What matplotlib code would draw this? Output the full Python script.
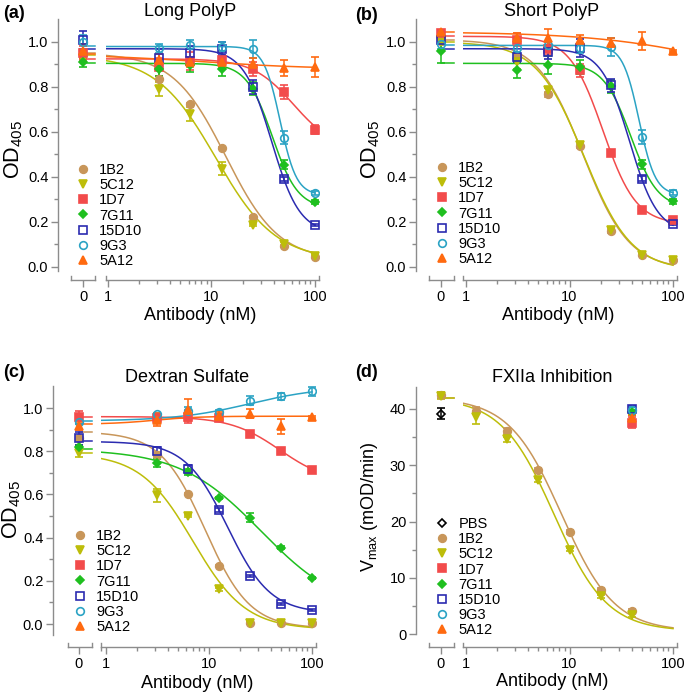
import numpy as np
import matplotlib.pyplot as plt
from matplotlib.lines import Line2D

plt.rcParams['font.family'] = ['Liberation Sans', 'DejaVu Sans']
plt.rcParams['mathtext.fontset'] = 'custom'
plt.rcParams['mathtext.rm'] = 'Liberation Sans'
plt.rcParams['mathtext.default'] = 'regular'

W, H = 685, 695

# ---- series ----
names = ['1B2', '5C12', '1D7', '7G11', '15D10', '9G3', '5A12']
colors = ['#c8965a', '#bdbd0a', '#f24b4b', '#1fbf1f', '#2b2bb0', '#2ba3c4', '#ff6a10']
markers = ['o', 'v', 's', 'D', 's', 'o', '^']
msizes = [5.5, 6, 5.5, 4.5, 5.5, 5.5, 6]
filled = [True, True, True, True, False, False, True]

conc = [3.125, 6.25, 12.5, 25, 50, 100]
conc_d = [1.25, 2.5, 5, 10, 20, 40]

# ---- (a) Long PolyP ----
a_zero = [0.945, 0.93, 0.95, 0.91, 1.01, 1.0, 0.96]
a_zero_err = [0.02, 0.02, 0.03, 0.02, 0.04, 0.03, 0.03]
a_vals = [[0.837, 0.726, 0.529, 0.222, 0.092, 0.044],
          [0.79, 0.68, 0.437, 0.185, 0.10, 0.047],
          [0.89, 0.914, 0.918, 0.88, 0.778, 0.61],
          [0.88, 0.896, 0.88, 0.793, 0.455, 0.289],
          [0.93, 0.953, 0.97, 0.80, 0.39, 0.188],
          [0.973, 0.988, 0.978, 0.97, 0.575, 0.329],
          [0.918, 0.911, 0.911, 0.90, 0.885, 0.89]]
a_err = [[0.01, 0.005, 0.005, 0.005, 0.005, 0.005],
         [0.03, 0.03, 0.03, 0.005, 0.01, 0.005],
         [0.04, 0.04, 0.04, 0.03, 0.03, 0.02],
         [0.03, 0.03, 0.03, 0.03, 0.02, 0.01],
         [0.04, 0.03, 0.03, 0.03, 0.01, 0.005],
         [0.02, 0.02, 0.02, 0.04, 0.03, 0.01],
         [0.03, 0.02, 0.02, 0.03, 0.035, 0.045]]
# fitted curves: top, bottom, IC50, hill
a_fit = [(0.95, 0.03, 13.8, 1.7), (0.94, 0.03, 11.0, 1.5), (0.925, 0.52, 62, 2.2),
         (0.905, 0.26, 38.5, 3.5), (0.97, 0.15, 38, 3.2), (0.98, 0.32, 46, 5.5),
         (0.945, 0.88, 8, 0.8)]

# ---- (b) Short PolyP ----
b_zero = [1.005, 1.0, 1.04, 0.96, 1.01, 0.99, 1.045]
b_zero_err = [0.01, 0.01, 0.015, 0.055, 0.02, 0.02, 0.01]
b_vals = [[0.933, 0.767, 0.538, 0.16, 0.052, 0.03],
          [0.91, 0.785, 0.544, 0.166, 0.052, 0.03],
          [1.01, 0.97, 0.874, 0.507, 0.255, 0.207],
          [0.874, 0.896, 0.889, 0.803, 0.456, 0.292],
          [0.933, 0.956, 0.973, 0.807, 0.393, 0.19],
          [0.975, 0.985, 0.973, 0.978, 0.578, 0.33],
          [1.019, 1.019, 1.01, 0.996, 1.004, 0.96]]
b_err = [[0.01, 0.01, 0.01, 0.01, 0.005, 0.005],
         [0.03, 0.01, 0.01, 0.01, 0.005, 0.005],
         [0.03, 0.03, 0.03, 0.01, 0.005, 0.005],
         [0.035, 0.04, 0.03, 0.03, 0.02, 0.01],
         [0.02, 0.03, 0.04, 0.03, 0.01, 0.005],
         [0.02, 0.02, 0.02, 0.04, 0.03, 0.01],
         [0.02, 0.04, 0.02, 0.02, 0.04, 0.005]]
b_fit = [(1.01, -0.01, 13.5, 1.95), (1.0, -0.015, 13.8, 1.9), (1.025, 0.19, 21, 2.7),
         (0.905, 0.26, 39, 3.3), (0.97, 0.15, 38, 3.2), (0.985, 0.32, 47, 5.5),
         (1.045, 0.8, 300, 0.7)]

# ---- (c) Dextran Sulfate ----
c_zero = [0.86, 0.79, 0.958, 0.82, 0.861, 0.935, 0.917]
c_zero_err = [0.01, 0.015, 0.03, 0.01, 0.03, 0.01, 0.02]
c_vals = [[0.784, 0.601, 0.27, 0.003, 0.003, 0.003],
          [0.595, 0.50, 0.16, 0.003, 0.003, 0.003],
          [0.955, 0.96, 0.954, 0.88, 0.802, 0.711],
          [0.745, 0.703, 0.583, 0.493, 0.354, 0.212],
          [0.80, 0.717, 0.529, 0.224, 0.091, 0.065],
          [0.974, 0.985, 0.98, 1.034, 1.054, 1.077],
          [0.946, 0.99, 0.961, 0.974, 0.915, 0.958]]
c_err = [[0.01, 0.005, 0.005, 0.005, 0.005, 0.005],
         [0.03, 0.005, 0.005, 0.005, 0.005, 0.005],
         [0.015, 0.03, 0.015, 0.005, 0.01, 0.01],
         [0.02, 0.015, 0.005, 0.02, 0.005, 0.005],
         [0.02, 0.02, 0.01, 0.005, 0.005, 0.005],
         [0.005, 0.02, 0.01, 0.02, 0.015, 0.02],
         [0.03, 0.05, 0.02, 0.02, 0.035, 0.005]]
c_fit = [(0.89, -0.02, 9.2, 2.0), (0.79, -0.025, 7.0, 1.7), (0.96, 0.65, 49, 1.8),
         (0.81, 0.05, 32, 1.1), (0.845, 0.05, 15.2, 2.1), (0.94, 1.10, 25, 1.2),
         (0.925, 0.962, 3, 2)]

# ---- (d) FXIIa inhibition ----
pbs_zero, pbs_err = 39.2, 1.0
d_zero = [42.5, 42.3]            # 1B2, 5C12
d_zero_err = [0.5, 0.6]
d_vals = [[39.7, 36.1, 29.2, 18.1, 7.9, 4.1],
          [38.5, 34.6, 27.4, 15.0, 6.7, 3.4]]
d_err = [[0.6, 0.5, 0.4, 0.4, 0.3, 0.3],
         [1.2, 0.5, 0.4, 0.3, 0.3, 0.3]]
d_fit = [(42, 0.5, 8.4, 1.7), (42, 0.5, 7.1, 1.7)]
d_at40 = [37.6, 39.4, 40.0, 39.8, 38.4]   # 1D7 .. 5A12 at 40 nM
d_at40_err = [0.9, 0.5, 0.5, 0.5, 0.6]

SPINE = '#8c8c8c'


def px_rect(x0, x1, y0, y1):
    return [x0 / W, 1 - y1 / H, (x1 - x0) / W, (y1 - y0) / H]


def logistic(x, top, bottom, ic50, hill):
    return bottom + (top - bottom) / (1 + (x / ic50) ** hill)


def end_caps(ax, xs):
    for x in xs:
        ax.plot([x, x], [0, 0.015], transform=ax.get_xaxis_transform(),
                color=SPINE, lw=1, clip_on=False)


def setup_panel(fig, geo, yref, ytop, ybot, ybounds, yticks, yminor, yfmt):
    sx, z0, z1, zc, l0, l1, p1, p100 = geo
    (va, pa), (vb, pb) = yref
    per = (pa - pb) / (vb - va)
    ylim = (va - (ybot - pa) / per, va + (pa - ytop) / per)

    ax0 = fig.add_axes(px_rect(sx, z1, ytop, ybot))
    ax1 = fig.add_axes(px_rect(l0, l1, ytop, ybot))
    for ax in (ax0, ax1):
        ax.set_ylim(*ylim)
        ax.patch.set_alpha(0)
        ax.spines['top'].set_visible(False)
        ax.spines['right'].set_visible(False)
        for s in ('left', 'bottom'):
            ax.spines[s].set_color(SPINE)
            ax.spines[s].set_linewidth(1)
        ax.tick_params(which='both', direction='out', color=SPINE, width=1,
                       labelsize=10.5, labelcolor='black', pad=2)
        ax.tick_params(which='major', length=5)
        ax.tick_params(which='minor', length=3)

    ax0.set_xlim((sx - zc) / 25, (z1 - zc) / 25)
    ax0.spines['bottom'].set_bounds((z0 - zc) / 25, (z1 - zc) / 25)
    ax0.spines['left'].set_bounds(*ybounds)
    ax0.set_xticks([0])
    ax0.set_xticklabels(['0'])
    ax0.set_yticks(yticks)
    ax0.set_yticklabels([yfmt.format(t) for t in yticks])
    ax0.set_yticks(yminor, minor=True)
    end_caps(ax0, [(z0 - zc) / 25, (z1 - zc) / 25])

    dec = (p100 - p1) / 2
    lo, hi = 10 ** ((l0 - p1) / dec), 10 ** ((l1 - p1) / dec)
    ax1.set_xscale('log')
    ax1.set_xlim(lo, hi)
    ax1.set_xticks([1, 10, 100])
    ax1.set_xticklabels(['1', '10', '100'])
    ax1.spines['left'].set_visible(False)
    ax1.tick_params(axis='y', which='both', left=False, labelleft=False)
    end_caps(ax1, [lo, hi])
    return ax0, ax1, (z1 - zc) / 25, lo


def draw_series(ax0, ax1, zend, lo, i, zero, zero_err, xs, vals, err, fit):
    c = colors[i]
    mfc = c if filled[i] else 'none'
    kw = dict(marker=markers[i], color=c, mfc=mfc, mec=c, ms=msizes[i], mew=1.2,
              ls='none', capsize=3, elinewidth=1.1, capthick=1.1, zorder=3)
    top, bottom, ic50, hill = fit
    ax0.plot([0, zend], [top, top], color=c, lw=1.1, zorder=2, clip_on=False)
    ax0.errorbar([0], [zero], yerr=[zero_err], **kw)
    xc = np.logspace(np.log10(lo), 2, 200)
    ax1.plot(xc, logistic(xc, *fit), color=c, lw=1.1, zorder=2)
    ax1.errorbar(xs, vals, yerr=err, **kw)


def legend_handle(i):
    c = colors[i]
    return Line2D([], [], marker=markers[i], color=c, ls='none', ms=msizes[i],
                  mfc=c if filled[i] else 'none', mec=c, mew=1.2)


fig = plt.figure(figsize=(W / 100, H / 100), dpi=100)

geo_a = (58, 71, 95, 83, 106, 319, 108, 315)
geo_b = (416, 429, 454, 441, 463, 677, 466, 673)
geo_c = (53, 68, 92, 79, 101, 316, 106, 312)
geo_d = geo_b

od_ticks = [0.0, 0.2, 0.4, 0.6, 0.8, 1.0]
od_minor = [0.1, 0.3, 0.5, 0.7, 0.9]

panels = [
    (geo_a, ((0.0, 267), (1.0, 42)), 19.5, 280, (-0.02, 1.1), a_zero, a_zero_err, a_vals, a_err, a_fit),
    (geo_b, ((0.0, 267), (1.0, 42)), 19.5, 280, (-0.02, 1.1), b_zero, b_zero_err, b_vals, b_err, b_fit),
    (geo_c, ((0.0, 624), (1.0, 408)), 386.4, 647, (-0.05, 1.1), c_zero, c_zero_err, c_vals, c_err, c_fit),
]
for geo, yref, yt, yb, ybd, zero, zerr, vals, err, fit in panels:
    ax0, ax1, zend, lo = setup_panel(fig, geo, yref, yt, yb, ybd, od_ticks, od_minor, '{:.1f}')
    for i in range(len(names)):
        draw_series(ax0, ax1, zend, lo, i, zero[i], zerr[i], conc, vals[i], err[i], fit[i])

# panel (d)
ax0, ax1, zend, lo = setup_panel(fig, geo_d, ((0, 634), (40, 409)), 386.5, 647, (0, 44),
                                 [0, 10, 20, 30, 40], [5, 15, 25, 35], '{:d}')
ax0.errorbar([0], [pbs_zero], yerr=[pbs_err], marker='D', color='black', mfc='none',
             ms=4.5, mew=1.2, ls='none', capsize=3, elinewidth=1.1, capthick=1.1, zorder=3)
for i in range(2):
    draw_series(ax0, ax1, zend, lo, i, d_zero[i], d_zero_err[i], conc_d, d_vals[i], d_err[i], d_fit[i])
for k, i in enumerate(range(2, 7)):
    c = colors[i]
    ax1.errorbar([40], [d_at40[k]], yerr=[d_at40_err[k]], marker=markers[i], color=c,
                 mfc=c if filled[i] else 'none', mec=c, ms=msizes[i], mew=1.2, ls='none',
                 capsize=3, elinewidth=1.1, capthick=1.1, zorder=3)

# legends
leg_kw = dict(loc='upper left', frameon=False, fontsize=10.5, handlelength=0.9,
              handletextpad=0.7, labelspacing=0.08, borderpad=0, borderaxespad=0)
handles = [legend_handle(i) for i in range(7)]
fig.legend(handles, names, bbox_to_anchor=(76 / W, 1 - 163 / H), **leg_kw)
fig.legend(handles, names, bbox_to_anchor=(435 / W, 1 - 161 / H), **leg_kw)
fig.legend(handles, names, bbox_to_anchor=(73 / W, 1 - 529 / H), **leg_kw)
pbs_h = Line2D([], [], marker='D', color='black', mfc='none', ls='none', ms=4.5, mew=1.2)
fig.legend([pbs_h] + handles, ['PBS'] + names, bbox_to_anchor=(435 / W, 1 - 517 / H), **leg_kw)

# titles, panel letters, axis labels
for x, y, t in [(190, 12, 'Long PolyP'), (552, 12, 'Short PolyP'),
                (187, 378, 'Dextran Sulfate'), (552, 377, 'FXIIa Inhibition')]:
    fig.text(x / W, 1 - y / H, t, ha='center', va='center', fontsize=13)
for x, y, t in [(3, 14, '(a)'), (355, 15, '(b)'), (3, 373, '(c)'), (355, 373, '(d)')]:
    fig.text(x / W, 1 - y / H, t, ha='left', va='center', fontsize=13, fontweight='bold')
for x, y in [(200, 315), (558, 315), (197, 683), (552, 682)]:
    fig.text(x / W, 1 - y / H, 'Antibody (nM)', ha='center', va='center', fontsize=13)
for x, y, t in [(14, 150, 'OD$_{405}$'), (371, 150, 'OD$_{405}$'), (12, 510, 'OD$_{405}$')]:
    fig.text(x / W, 1 - y / H, t, ha='center', va='center', fontsize=15.5, rotation=90)
fig.text(370 / W, 1 - 507 / H, 'V$_{max}$ (mOD/min)', ha='center', va='center',
         fontsize=13, rotation=90)

fig.savefig('out.png', dpi=100)
